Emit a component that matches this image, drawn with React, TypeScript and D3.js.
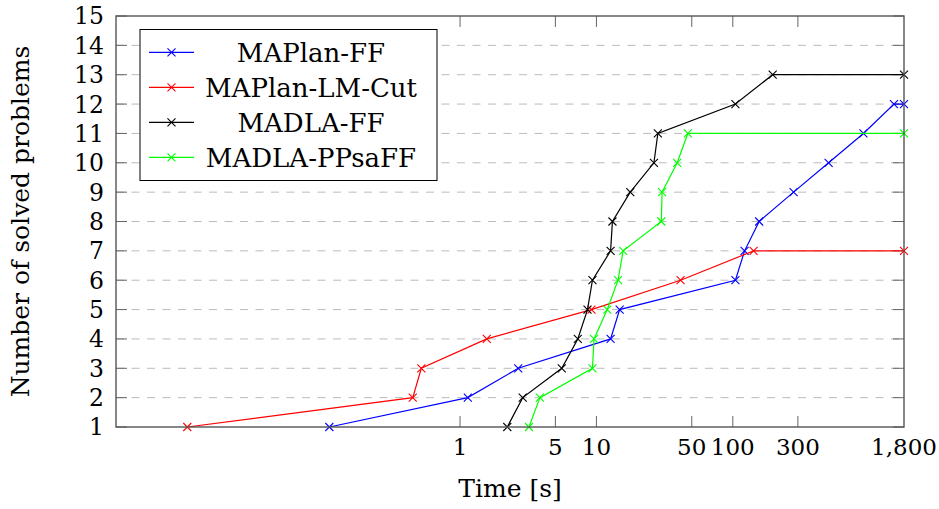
import React from "react";
import * as d3 from "d3";

// solved-problems curves, x = time in seconds, y = number solved
const maplanFF = [
  [0.11, 1], [1.14, 2], [2.67, 3], [12.7, 4], [14.8, 5], [104.5, 6], [122, 7],
  [156, 8], [279, 9], [504, 10], [907, 11], [1520, 12], [1800, 12],
];
const maplanLMCut = [
  [0.01, 1], [0.45, 2], [0.52, 3], [1.57, 4], [9.2, 5], [41.4, 6], [142, 7], [1800, 7],
];
const madlaFF = [
  [2.22, 1], [2.88, 2], [5.57, 3], [7.3, 4], [8.6, 5], [9.35, 6], [12.7, 7], [13.1, 8],
  [17.7, 9], [26.4, 10], [28.2, 11], [104.5, 12], [196, 13], [1800, 13],
];
const madlaPPsaFF = [
  [3.2, 1], [3.85, 2], [9.35, 3], [9.6, 4], [12.0, 5], [14.4, 6], [15.7, 7], [29.9, 8],
  [30.3, 9], [39.1, 10], [46.8, 11], [1800, 11],
];

const seriesNames = ["MAPlan-FF", "MAPlan-LM-Cut", "MADLA-FF", "MADLA-PPsaFF"];
const seriesColors = ["#0000ff", "#ff0000", "#000000", "#00ff00"];
const seriesData = [maplanFF, maplanLMCut, madlaFF, madlaPPsaFF];

const xTicks = [1, 5, 10, 50, 100, 300, 1800];
const yTicks = d3.range(1, 16);

const W = 939;
const H = 509;
const margin = { left: 116, right: 35, top: 16, bottom: 82 };
const font = "DejaVu Serif";

const Cross = ({ x, y, color }: { x: number; y: number; color: string }) => {
  const s = 4;
  return (
    <path
      d={`M${x - s},${y - s}L${x + s},${y + s}M${x - s},${y + s}L${x + s},${y - s}`}
      stroke={color}
      strokeWidth={1.1}
    />
  );
};

const App = () => {
  const x0 = margin.left;
  const x1 = W - margin.right;
  const y0 = H - margin.bottom;
  const y1 = margin.top;

  const x = d3.scaleLog().domain([0.003, 1800]).range([x0, x1]);
  const y = d3.scaleLinear().domain([1, 15]).range([y0, y1]);

  const line = d3
    .line<number[]>()
    .x((d) => x(d[0]))
    .y((d) => y(d[1]));

  const fmt = d3.format(",");
  const tickLen = 11;

  return (
    <svg
      width={W}
      height={H}
      style={{ position: "absolute", left: 0, top: 0, background: "#fff" }}
    >
      {/* grid */}
      {yTicks.slice(1, -1).map((t) => (
        <line
          key={"g" + t}
          x1={x0}
          x2={x1}
          y1={y(t)}
          y2={y(t)}
          stroke="#bbbbbb"
          strokeWidth={1}
          strokeDasharray="8,7.5"
        />
      ))}

      {/* ticks */}
      {xTicks.slice(0, -1).map((t) => (
        <g key={"xt" + t} stroke="#666" strokeWidth={1}>
          <line x1={x(t)} x2={x(t)} y1={y0} y2={y0 - tickLen} />
          <line x1={x(t)} x2={x(t)} y1={y1} y2={y1 + tickLen} />
        </g>
      ))}
      {yTicks.map((t) => (
        <g key={"yt" + t} stroke="#666" strokeWidth={1}>
          <line x1={x0} x2={x0 + tickLen} y1={y(t)} y2={y(t)} />
          <line x1={x1} x2={x1 - tickLen} y1={y(t)} y2={y(t)} />
        </g>
      ))}

      {/* series */}
      {seriesData.map((data, i) => (
        <g key={seriesNames[i]}>
          <path d={line(data) || ""} fill="none" stroke={seriesColors[i]} strokeWidth={1.2} />
          {data.map((d, j) => (
            <Cross key={j} x={x(d[0])} y={y(d[1])} color={seriesColors[i]} />
          ))}
        </g>
      ))}

      {/* frame */}
      <rect
        x={x0}
        y={y1}
        width={x1 - x0}
        height={y0 - y1}
        fill="none"
        stroke="#555"
        strokeWidth={1.4}
      />

      {/* tick labels */}
      {xTicks.map((t) => (
        <text key={"xl" + t} x={x(t)} y={y0 + 28} textAnchor="middle" fontSize={23} fontFamily={font}>
          {fmt(t)}
        </text>
      ))}
      {yTicks.map((t) => (
        <text
          key={"yl" + t}
          x={104}
          y={y(t)}
          dy="0.36em"
          textAnchor="end"
          fontSize={23.5}
          fontFamily={font}
        >
          {t}
        </text>
      ))}

      {/* axis titles */}
      <text x={(x0 + x1) / 2} y={497} textAnchor="middle" fontSize={25} fontFamily={font}>
        Time [s]
      </text>
      <text
        transform={`translate(29,${(y0 + y1) / 2}) rotate(-90)`}
        textAnchor="middle"
        fontSize={25}
        fontFamily={font}
      >
        Number of solved problems
      </text>

      {/* legend */}
      <g>
        <rect x={140} y={29.5} width={297} height={151} fill="#fff" stroke="#000" strokeWidth={1} />
        {seriesNames.map((name, i) => {
          const cy = 52.3 + i * 35;
          return (
            <g key={"lg" + name}>
              <line x1={149} x2={194} y1={cy} y2={cy} stroke={seriesColors[i]} strokeWidth={1.2} />
              <Cross x={171.5} y={cy} color={seriesColors[i]} />
              <text x={311} y={cy + 9.5} textAnchor="middle" fontSize={26} fontFamily={font}>
                {name}
              </text>
            </g>
          );
        })}
      </g>
    </svg>
  );
};

export default App;
